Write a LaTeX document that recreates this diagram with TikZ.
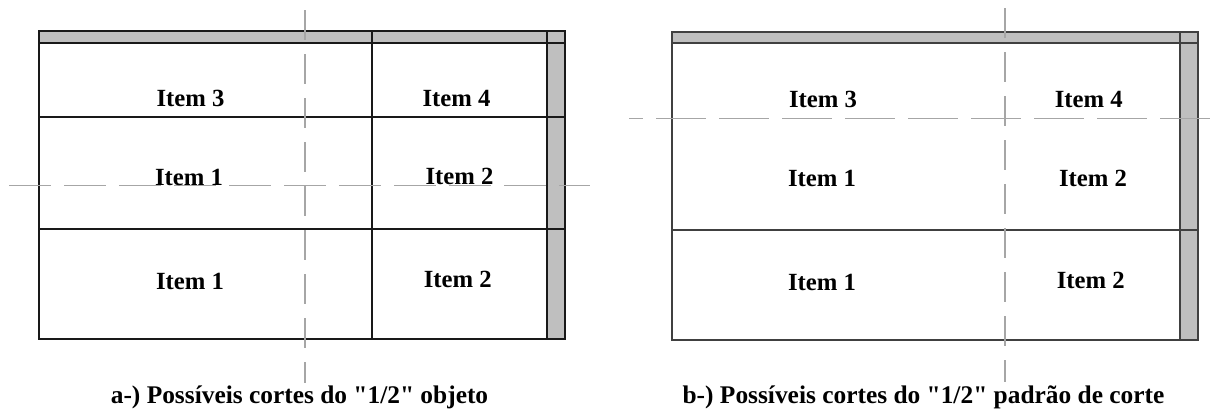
\documentclass[tikz,border=0pt]{standalone}
\usepackage{fontspec}
\setmainfont{Liberation Serif}[Ligatures=TeXOff]
\tikzset{
  frameA/.style={draw=black!90, line width=1.3pt},
  frameB/.style={draw=black!75, line width=1.5pt},
  band/.style={fill=gray!50!white, draw=none},
  cutH/.style={draw=black!35, line width=1.3pt, dash pattern=on 42pt off 13pt},
  cutV/.style={draw=black!35, line width=1.3pt, dash pattern=on 30pt off 14pt},
  itemlbl/.style={inner sep=0pt, anchor=base, font=\fontsize{24.7}{28}\selectfont\bfseries},
  caplbl/.style={inner sep=0pt, anchor=base, font=\fontsize{25.4}{30}\selectfont\bfseries}
}
\begin{document}
\begin{tikzpicture}[x=1pt, y=-1pt]
\useasboundingbox[fill=white] (0,0) rectangle (1212,410);

% ---------- diagram a ----------
\fill[band] (39,31) rectangle (565,43);
\fill[band] (547,43) rectangle (565,339);
\draw[frameA] (39,31) rectangle (565,339);
\draw[frameA] (39,43) -- (565,43);
\draw[frameA] (39,117) -- (565,117);
\draw[frameA] (39,229) -- (565,229);
\draw[frameA] (372,31) -- (372,339);
\draw[frameA] (547,31) -- (547,339);

\coordinate (aH1) at (9,185.7);
\coordinate (aH2) at (590,185.7);
\coordinate (aV1) at (305,10);
\coordinate (aV2) at (305,383);
\draw[cutH] (aH1) -- (aH2);
\draw[cutV] (aV1) -- (aV2);

\node[itemlbl] (a3) at (190.5,106) {Item 3};
\node[itemlbl] (a4) at (456.5,106) {Item 4};
\node[itemlbl] (a1m) at (189,185) {Item 1};
\node[itemlbl] (a2m) at (459.5,184.3) {Item 2};
\node[itemlbl] (a1b) at (190,289.3) {Item 1};
\node[itemlbl] (a2b) at (457.7,287.3) {Item 2};
\node[caplbl] (capa) at (299.5,403) {a-) Possíveis cortes do "1/2" objeto};

% ---------- diagram b ----------
\fill[band] (672,32) rectangle (1198,43);
\fill[band] (1180,43) rectangle (1198,340);
\draw[frameB] (672,32) rectangle (1198,340);
\draw[frameB] (672,43) -- (1198,43);
\draw[frameB] (672,230) -- (1198,230);
\draw[frameB] (1180,32) -- (1180,340);

\coordinate (bH1) at (629,118.7);
\coordinate (bH2) at (1211,118.7);
\coordinate (bV1) at (1005,8);
\coordinate (bV2) at (1005,382);
\draw[cutH, dash pattern=on 50pt off 13pt, dash phase=36pt] (bH1) -- (bH2);
\draw[cutV] (bV1) -- (bV2);

\node[itemlbl] (b3) at (823,107.3) {Item 3};
\node[itemlbl] (b4) at (1088.7,107.3) {Item 4};
\node[itemlbl] (b1m) at (822,186) {Item 1};
\node[itemlbl] (b2m) at (1093,186) {Item 2};
\node[itemlbl] (b1b) at (822,290.7) {Item 1};
\node[itemlbl] (b2b) at (1090.8,288.3) {Item 2};
\node[caplbl] (capb) at (923.5,403) {b-) Possíveis cortes do "1/2" padrão de corte};
\end{tikzpicture}
\end{document}
